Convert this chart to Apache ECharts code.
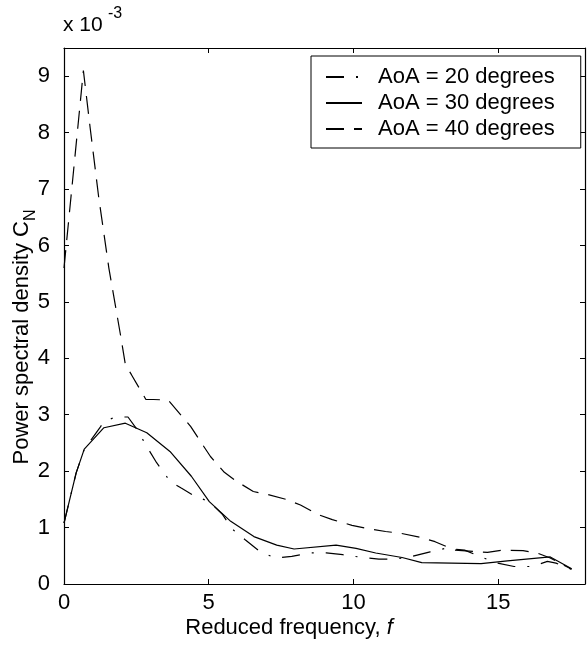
<!DOCTYPE html>
<html>
<head>
<meta charset="utf-8">
<script src="https://cdn.jsdelivr.net/npm/echarts@6/dist/echarts.min.js"></script>
<style>html,body{margin:0;padding:0;background:#fff}#c{width:588px;height:649px}</style>
</head>
<body>
<div id="c"></div>
<script>
// Reduced frequency values and PSD (x 10^-3) for each angle of attack
const f20 = [0, 0.42, 0.7, 1.24, 1.38, 1.78, 2.21, 2.52, 2.89, 3.2, 3.54, 3.66, 4.05, 4.51, 5.02, 5.48, 5.82, 6.27, 6.78, 7.3, 7.87, 8.55, 9.06, 9.63, 10.31, 10.88, 11.39, 11.96, 12.65, 13.16, 13.84, 14.4, 14.98, 15.55, 16.17, 16.7, 17.0, 17.54];
const v20 = [1.08, 1.97, 2.39, 2.77, 2.88, 2.96, 2.96, 2.74, 2.41, 2.15, 1.91, 1.82, 1.7, 1.56, 1.46, 1.23, 0.97, 0.78, 0.57, 0.46, 0.49, 0.55, 0.55, 0.52, 0.47, 0.44, 0.44, 0.48, 0.57, 0.63, 0.6, 0.48, 0.37, 0.31, 0.31, 0.4, 0.37, 0.26];

const f30 = [0, 0.42, 0.7, 1.38, 2.12, 2.86, 3.66, 4.4, 5.02, 5.76, 6.56, 7.35, 7.95, 9.4, 10.09, 10.77, 11.68, 12.36, 14.41, 15.32, 16.8, 17.54];
const v30 = [1.08, 1.97, 2.39, 2.77, 2.85, 2.68, 2.35, 1.91, 1.46, 1.11, 0.84, 0.69, 0.62, 0.69, 0.63, 0.55, 0.47, 0.38, 0.36, 0.41, 0.48, 0.27];

const f40 = [0, 0.67, 0.9, 1.2, 1.55, 1.97, 2.12, 2.33, 2.58, 2.83, 3.09, 3.6, 4.08, 4.38, 4.8, 5.06, 5.54, 5.93, 6.54, 7.01, 7.67, 8.17, 8.78, 9.27, 9.95, 10.43, 11.11, 11.62, 12.3, 12.82, 13.5, 14.63, 15.15, 15.86, 16.34, 16.8, 17.54];
const v40 = [5.6, 9.1, 8.1, 6.85, 5.6, 4.36, 3.89, 3.71, 3.49, 3.27, 3.27, 3.26, 2.97, 2.79, 2.46, 2.26, 1.98, 1.83, 1.64, 1.59, 1.5, 1.4, 1.23, 1.14, 1.04, 0.99, 0.93, 0.9, 0.83, 0.75, 0.6, 0.56, 0.6, 0.59, 0.55, 0.46, 0.26];

const seriesNames = ['AoA = 20 degrees', 'AoA = 30 degrees', 'AoA = 40 degrees'];
const xTicks = [0, 5, 10, 15];
const yTicks = [0, 1, 2, 3, 4, 5, 6, 7, 8, 9];

const FONT = 'Liberation Sans, Arial, sans-serif';
const pair = (xs, ys) => xs.map((x, i) => [x, ys[i]]);

const chart = echarts.init(document.getElementById('c'), null, {renderer: 'canvas'});

const axisCommon = {
  axisLine: {show: true, onZero: false, lineStyle: {color: '#000', width: 1.2}},
  axisTick: {show: true, inside: true, length: 5, lineStyle: {color: '#000', width: 1}},
  splitLine: {show: false}
};

chart.setOption({
  animation: false,
  backgroundColor: '#fff',
  grid: {left: 64, top: 48, width: 527, height: 536, containLabel: false},
  xAxis: [
    Object.assign({type: 'value', min: 0, max: 18, interval: 5, position: 'bottom',
      axisLabel: {show: true, color: '#000', fontFamily: FONT, fontSize: 22, margin: 8,
        formatter: v => xTicks.includes(v) ? String(v) : ''}}, axisCommon),
    Object.assign({type: 'value', min: 0, max: 18, interval: 5, position: 'top',
      axisLabel: {show: false}}, axisCommon)
  ],
  yAxis: [
    Object.assign({type: 'value', min: 0, max: 9.5, interval: 1, position: 'left',
      axisLabel: {show: true, color: '#000', fontFamily: FONT, fontSize: 22, margin: 14,
        formatter: v => yTicks.includes(v) ? String(v) : ''}}, axisCommon),
    Object.assign({type: 'value', min: 0, max: 9.5, interval: 1, position: 'right',
      axisLabel: {show: false}}, axisCommon)
  ],
  legend: {
    orient: 'vertical', left: 311, top: 56,
    padding: [10, 26, 8, 14], itemGap: 4,
    itemWidth: 36, itemHeight: 14,
    itemStyle: {opacity: 0},
    backgroundColor: '#fff', borderColor: '#000', borderWidth: 1,
    textStyle: {color: '#000', fontFamily: FONT, fontSize: 22, lineHeight: 20, padding: [0, 0, 0, 11]},
    data: seriesNames
  },
  series: [
    {name: seriesNames[0], type: 'line', data: pair(f20, v20), symbol: 'none',
      lineStyle: {color: '#000', width: 1.2, type: [18, 12, 2, 12]}, itemStyle: {color: '#000'}},
    {name: seriesNames[1], type: 'line', data: pair(f30, v30), symbol: 'none',
      lineStyle: {color: '#000', width: 1.2, type: 'solid'}, itemStyle: {color: '#000'}},
    {name: seriesNames[2], type: 'line', data: pair(f40, v40), symbol: 'none',
      lineStyle: {color: '#000', width: 1.2, type: [18, 10]}, itemStyle: {color: '#000'}}
  ],
  graphic: [
    {type: 'text', left: 63, top: 15, style: {text: 'x 10', fill: '#000', font: '21px ' + FONT}},
    {type: 'text', left: 108, top: 6, style: {text: '-3', fill: '#000', font: '16px ' + FONT}},
    {type: 'text', x: 289, y: 628,
      style: {text: '{a|Reduced frequency, }{b|f}', align: 'center', verticalAlign: 'middle',
        rich: {a: {fontFamily: FONT, fontSize: 22, color: '#000'},
               b: {fontFamily: FONT, fontSize: 22, fontStyle: 'italic', color: '#000'}}}},
    {type: 'text', x: 22, y: 337, rotation: Math.PI / 2,
      style: {text: '{a|Power spectral density C}{b|N}', align: 'center', verticalAlign: 'middle',
        rich: {a: {fontFamily: FONT, fontSize: 22, color: '#000', lineHeight: 34, verticalAlign: 'middle'},
               b: {fontFamily: FONT, fontSize: 16, color: '#000', lineHeight: 17, verticalAlign: 'bottom'}}}}
  ]
});
</script>
</body>
</html>
